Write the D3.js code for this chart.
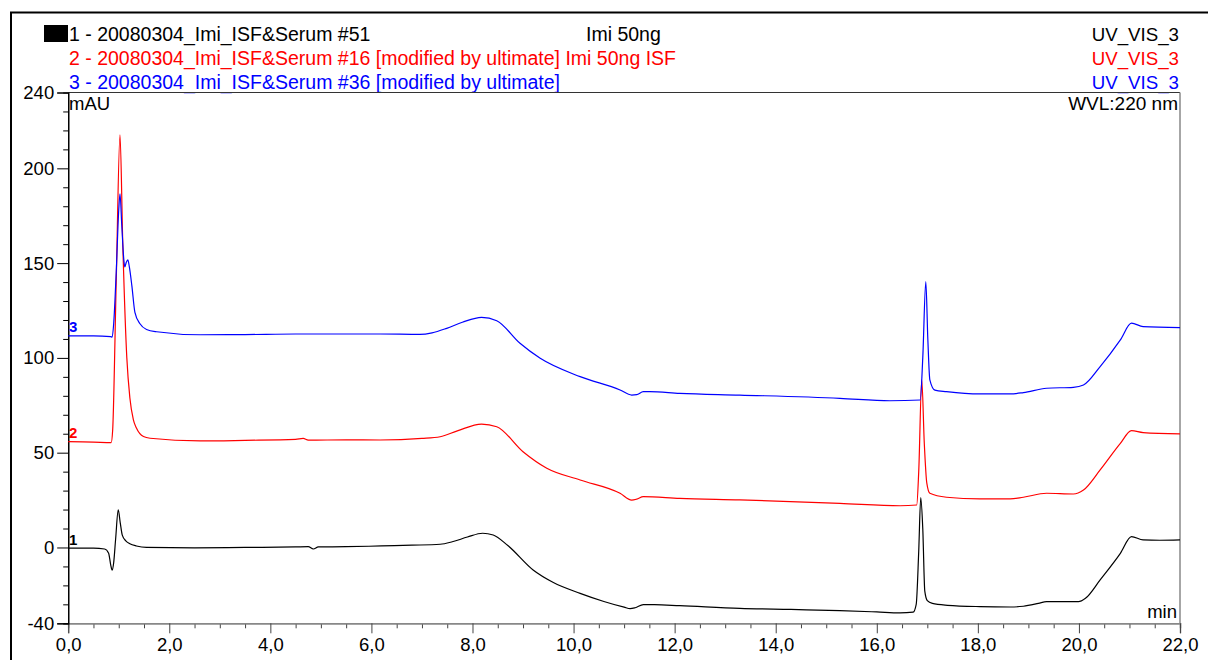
<!DOCTYPE html>
<html>
<head>
<meta charset="utf-8">
<script src="https://cdn.jsdelivr.net/npm/d3@7"></script>
<style>
  html, body { margin: 0; padding: 0; background: #fff; }
  svg { display: block; font-family: "Liberation Sans", Arial, sans-serif; }
</style>
</head>
<body>
<svg id="chart" width="1208" height="660"></svg>
<script>
// Retention time (min) and absorbance (mAU) pairs for each injection
const trace1 = [
  [0, -0.3], [0.5, -0.3], [0.72, -0.8], [0.8, -3], [0.84, -9], [0.87, -12], [0.9, -8],
  [0.94, 5], [0.99, 19.8], [1.03, 13], [1.07, 6.5], [1.14, 3.5], [1.22, 2], [1.35, 0.8],
  [1.55, 0], [2.5, -0.2], [3.5, 0], [4.5, 0.3], [4.75, 0.4], [4.85, -0.8], [4.95, 0.3],
  [5.5, 0.4], [6.2, 0.8], [6.8, 1.2], [7.36, 1.7], [7.6, 3], [7.9, 5.5], [8.2, 7.5],
  [8.41, 6.6], [8.7, 1], [9.2, -11.9], [9.6, -18.5], [10.13, -24.2], [10.6, -28.5],
  [11.0, -31.5], [11.12, -32.3], [11.22, -31.8], [11.38, -30.2], [11.6, -30.2],
  [12.1, -30.7], [13.29, -32.1], [14.3, -32.7], [15.27, -33.3], [16.0, -34], [16.46, -34.5],
  [16.72, -34.1], [16.78, -30], [16.83, -2], [16.87, 26.3], [16.91, 10], [16.95, -23],
  [17.0, -28], [17.1, -29.5], [17.4, -30.5], [18.04, -31.2], [18.64, -31.4], [18.9, -31],
  [19.2, -29.5], [19.36, -28.6], [19.99, -28.6], [20.13, -26.8], [20.42, -17.1],
  [20.82, -3.1], [21.04, 5.7], [21.27, 4], [21.6, 3.8], [22, 4]
];
const trace2 = [
  [0, 55.8], [0.5, 55.6], [0.85, 55.3], [0.88, 62], [0.95, 140], [1.025, 217.6],
  [1.08, 160], [1.16, 100], [1.22, 79], [1.29, 67.3], [1.35, 63], [1.49, 58.5],
  [1.62, 57.6], [2.61, 56.2], [3.5, 56.5], [4.5, 57], [4.65, 57.5], [4.75, 56.6],
  [5.5, 56.8], [6.17, 56.7], [7.0, 57.5], [7.36, 58.4], [7.7, 61.5], [8.18, 65.1],
  [8.48, 63.7], [9.0, 50.5], [9.47, 41.8], [10.13, 35.6], [10.92, 28.6], [11.15, 25],
  [11.25, 25.5], [11.38, 26.8], [12.1, 25.9], [13.29, 25.1], [15.27, 23.3], [16.46, 22],
  [16.79, 22.4], [16.83, 40], [16.89, 88.4], [16.94, 55], [16.99, 33.9], [17.05, 28.6],
  [17.38, 26.5], [18.04, 25.6], [18.64, 25.6], [18.9, 26.5], [19.36, 28.6], [19.89, 28.2],
  [20.09, 30.3], [20.42, 40.9], [20.82, 54.9], [21.04, 61.6], [21.27, 60.6], [22, 59.9]
];
const trace3 = [
  [0, 111.6], [0.5, 111.6], [0.84, 111.2], [0.87, 111], [0.9, 118], [0.95, 145],
  [1.0, 178], [1.025, 186.6], [1.06, 170], [1.1, 152], [1.12, 148], [1.15, 150.5],
  [1.18, 151.7], [1.21, 148], [1.26, 138], [1.32, 124], [1.42, 118], [1.55, 115],
  [1.75, 113.8], [2.61, 112.2], [3.5, 112.3], [4.5, 112.6], [5.5, 112.6], [6.17, 112.6],
  [6.96, 112.4], [7.2, 113.2], [7.49, 115.6], [7.8, 118.8], [8.18, 121.4], [8.48, 119.6],
  [8.94, 107.7], [9.34, 99.8], [10.13, 90.1], [10.92, 83.1], [11.15, 80.4], [11.25, 80.6],
  [11.38, 82.2], [11.51, 82.2], [12.1, 81.3], [13.29, 80.4], [15.27, 78.7], [16.26, 77.4],
  [16.86, 77.8], [16.91, 100], [16.97, 140.2], [17.01, 110], [17.05, 88.4], [17.15, 83],
  [17.38, 82.2], [18.04, 81], [18.64, 81], [18.9, 81.7], [19.36, 84], [19.89, 84.5],
  [20.09, 85.7], [20.42, 95.4], [20.82, 109.5], [21.04, 118.3], [21.27, 116.5], [22, 116]
];

const traceNames = [
  "1 - 20080304_Imi_ISF&Serum #51",
  "2 - 20080304_Imi_ISF&Serum #16 [modified by ultimate] Imi 50ng ISF",
  "3 - 20080304_Imi_ISF&Serum #36 [modified by ultimate]"
];
const traceNumbers = ["1", "2", "3"];
const channelNames = ["UV_VIS_3", "UV_VIS_3", "UV_VIS_3"];
const traceColors = ["#000000", "#ff0000", "#0000ff"];
const sampleNote = "Imi 50ng";

const xMajorTicks = [0, 2, 4, 6, 8, 10, 12, 14, 16, 18, 20, 22];
const yMajorTicks = [-40, 0, 50, 100, 150, 200, 240];

const svg = d3.select("#chart");
const x = d3.scaleLinear().domain([0, 22]).range([68.2, 1180]);
const y = d3.scaleLinear().domain([-40, 240]).range([623.3, 92.5]);

// outer report frame
svg.append("line").attr("x1", 10).attr("x2", 1208).attr("y1", 12.5).attr("y2", 12.5)
  .attr("stroke", "#000").attr("stroke-width", 2);
svg.append("line").attr("x1", 11).attr("x2", 11).attr("y1", 12).attr("y2", 660)
  .attr("stroke", "#000").attr("stroke-width", 2);

// header: one row per trace
const rowY = [40.5, 64.5, 88.5];
svg.append("rect").attr("x", 44).attr("y", 25).attr("width", 24).attr("height", 17).attr("fill", "#000");
traceNames.forEach((name, i) => {
  svg.append("text").attr("x", 69).attr("y", rowY[i]).attr("font-size", 19.5)
    .attr("fill", traceColors[i]).text(name);
  svg.append("text").attr("x", 1179).attr("y", rowY[i]).attr("font-size", 18.7)
    .attr("text-anchor", "end").attr("fill", traceColors[i]).text(channelNames[i]);
});
svg.append("text").attr("x", 586).attr("y", rowY[0]).attr("font-size", 19.5).text(sampleNote);

// plot box (top and right edges)
svg.append("line").attr("x1", x(0)).attr("x2", x(22)).attr("y1", y(240)).attr("y2", y(240))
  .attr("stroke", "#333").attr("stroke-width", 1.2);
svg.append("line").attr("x1", x(22)).attr("x2", x(22)).attr("y1", y(240)).attr("y2", y(-40))
  .attr("stroke", "#888").attr("stroke-width", 1.5);

const fmtX = d => d.toFixed(1).replace(".", ",");

// x axis: minor ticks every 0.5 min, labelled ticks every 2 min
const xMinor = d3.range(0, 22.001, 0.5).filter(v => Math.abs(v / 2 - Math.round(v / 2)) > 1e-6);
const gxMinor = svg.append("g").attr("transform", `translate(0,${y(-40)})`)
  .call(d3.axisBottom(x).tickValues(xMinor).tickSize(5).tickFormat(""));
const gx = svg.append("g").attr("transform", `translate(0,${y(-40)})`)
  .call(d3.axisBottom(x).tickValues(xMajorTicks).tickSize(10).tickPadding(5).tickFormat(fmtX));
[gxMinor, gx].forEach(g => {
  g.select(".domain").attr("stroke", "#888").attr("stroke-width", 1.5);
  g.selectAll(".tick line").attr("stroke", "#444");
});
gx.selectAll("text").attr("font-size", 18.5).attr("font-family", "Liberation Sans, Arial, sans-serif").attr("fill", "#000");

// y axis: minor ticks every 10 mAU
const yMinor = d3.range(-40, 241, 10).filter(v => !yMajorTicks.includes(v));
const gyMinor = svg.append("g").attr("transform", `translate(${x(0)},0)`)
  .call(d3.axisLeft(y).tickValues(yMinor).tickSize(5).tickFormat(""));
const gy = svg.append("g").attr("transform", `translate(${x(0)},0)`)
  .call(d3.axisLeft(y).tickValues(yMajorTicks).tickSize(11).tickPadding(3).tickFormat(d => String(d)));
[gyMinor, gy].forEach(g => {
  g.select(".domain").attr("stroke", "#000").attr("stroke-width", 1.2);
  g.selectAll(".tick line").attr("stroke", "#000");
});
gy.selectAll("text").attr("font-size", 18.5).attr("font-family", "Liberation Sans, Arial, sans-serif").attr("fill", "#000");

// units and annotations inside the plot
svg.append("text").attr("x", 69).attr("y", 110).attr("font-size", 18.5).text("mAU");
svg.append("text").attr("x", 1178).attr("y", 110).attr("font-size", 19)
  .attr("text-anchor", "end").text("WVL:220 nm");
svg.append("text").attr("x", 1177).attr("y", 618).attr("font-size", 18.5)
  .attr("text-anchor", "end").text("min");

// chromatogram traces, trace 3 drawn last
const line = d3.line().x(d => x(d[0])).y(d => y(d[1])).curve(d3.curveMonotoneX);
[trace1, trace2, trace3].forEach((data, i) => {
  svg.append("path").datum(data).attr("d", line)
    .attr("fill", "none").attr("stroke", traceColors[i]).attr("stroke-width", 1.2)
    .attr("stroke-linejoin", "round");
  svg.append("text").attr("x", 69).attr("y", y(data[0][1]) - 3.5)
    .attr("font-size", 15).attr("font-weight", "bold").attr("fill", traceColors[i])
    .text(traceNumbers[i]);
});
</script>
</body>
</html>
